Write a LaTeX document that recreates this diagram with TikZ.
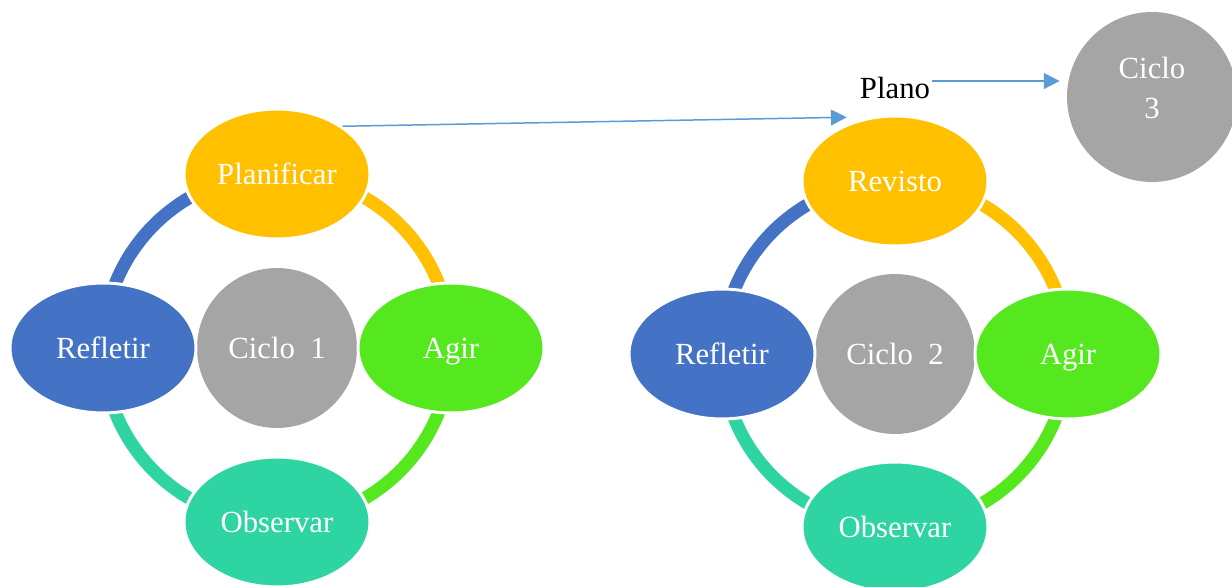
\documentclass[tikz,border=0pt]{standalone}
\usepackage{fontspec}
\setmainfont{Liberation Serif}
\usetikzlibrary{arrows.meta, positioning, shapes.geometric, backgrounds, calc}

\definecolor{planyellow}{HTML}{FFC000}
\definecolor{actgreen}{HTML}{55E81E}
\definecolor{obsteal}{HTML}{2ED5A3}
\definecolor{refblue}{HTML}{4472C4}
\definecolor{hubgray}{HTML}{A5A5A5}
\definecolor{linkblue}{HTML}{5B9BD5}

\begin{document}
\begin{tikzpicture}[
    x=0.02cm, y=0.02cm,
    font=\fontsize{17.5}{21.5}\selectfont,
    stage/.style={ellipse, draw=white, line width=0.06cm, minimum width=3.72cm,
                  minimum height=2.6cm, inner sep=0pt, text depth=0pt, text=white},
    hub/.style={circle, fill=hubgray, minimum size=3.2cm, inner sep=0pt, text=white},
    ring/.style={line width=0.26cm},
    link/.style={-{Triangle[length=9pt, width=9pt]}, draw=linkblue, line width=0.85pt},
]
    \useasboundingbox (0,0) rectangle (1232,586);

    %==================== CYCLE 1 ====================
    \node[hub] (cyc1) at (277,238) {Ciclo\ \ 1};
    \node[stage, fill=planyellow] (plan1) at ($(cyc1)+(0,174)$) {Planificar};
    \node[stage, fill=actgreen]   (act1)  at ($(cyc1)+(174,0)$) {Agir};
    \node[stage, fill=obsteal]    (obs1)  at ($(cyc1)+(0,-174)$) {Observar};
    \node[stage, fill=refblue]    (ref1)  at ($(cyc1)+(-174,0)$) {Refletir};

    \begin{scope}[on background layer]
        \draw[ring, planyellow] (plan1.center) arc[start angle=90, end angle=0, radius=3.48cm];
        \draw[ring, actgreen]   (act1.center)  arc[start angle=0, end angle=-90, radius=3.48cm];
        \draw[ring, obsteal]    (obs1.center)  arc[start angle=270, end angle=180, radius=3.48cm];
        \draw[ring, refblue]    (ref1.center)  arc[start angle=180, end angle=90, radius=3.48cm];
    \end{scope}

    %==================== CYCLE 2 ====================
    \node[hub] (cyc2) at (895,232) {Ciclo\ \ 2};
    \node[stage, fill=planyellow] (rev)  at ($(cyc2)+(0,173)$) {Revisto};
    \node[stage, fill=actgreen]   (act2) at ($(cyc2)+(173,0)$) {Agir};
    \node[stage, fill=obsteal]    (obs2) at ($(cyc2)+(0,-173)$) {Observar};
    \node[stage, fill=refblue]    (ref2) at ($(cyc2)+(-173,0)$) {Refletir};

    \begin{scope}[on background layer]
        \draw[ring, planyellow] (rev.center)  arc[start angle=90, end angle=0, radius=3.46cm];
        \draw[ring, actgreen]   (act2.center) arc[start angle=0, end angle=-90, radius=3.46cm];
        \draw[ring, obsteal]    (obs2.center) arc[start angle=270, end angle=180, radius=3.46cm];
        \draw[ring, refblue]    (ref2.center) arc[start angle=180, end angle=90, radius=3.46cm];
    \end{scope}

    %==================== CYCLE 3 + plan ====================
    \node[circle, fill=hubgray, minimum size=3.4cm, inner sep=0pt, text=white] (cyc3)
        at (1152,489) {\raisebox{-0.03cm}[0pt][0pt]{\begin{tabular}{@{}c@{}}Ciclo\\[1pt]3\end{tabular}}};
    \node[inner sep=1pt] (plano) at (895,498) {Plano};

    \coordinate (planoout) at ([yshift=0.14cm]plano.east);
    \draw[link, shorten >=0.14cm] (planoout) -- (planoout -| cyc3.west);
    \draw[link] (plan1.36) -- ([shift={(-4,5)}]rev.127);

\end{tikzpicture}
\end{document}
